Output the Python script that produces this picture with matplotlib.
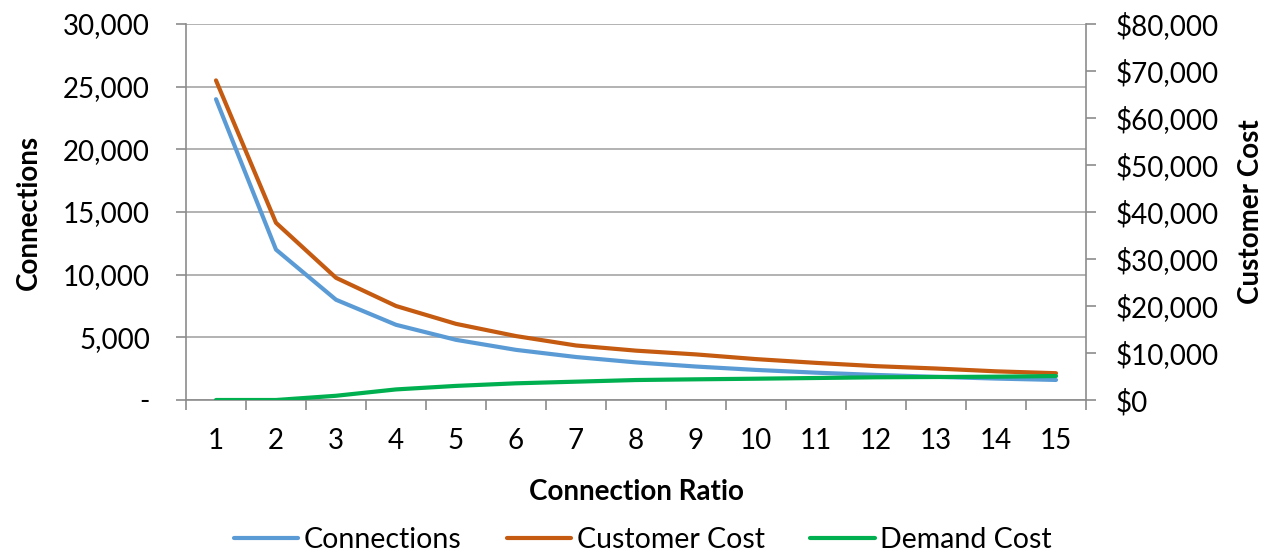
import matplotlib
matplotlib.use("Agg")
import matplotlib.pyplot as plt
from matplotlib.ticker import FuncFormatter, MultipleLocator, FixedLocator

ratio = list(range(1, 16))
connections = [24000, 12000, 8000, 6000, 4800, 4000, 3430, 3000, 2670, 2400, 2180, 2000, 1850, 1710, 1600]
customer_cost = [68000, 37700, 26000, 20000, 16200, 13600, 11600, 10500, 9700, 8700, 7900, 7200, 6700, 6100, 5700]
demand_cost = [0, 0, 900, 2250, 3000, 3550, 3900, 4250, 4400, 4530, 4680, 4830, 4890, 4960, 5100]

plt.rcParams['font.family'] = ['Lato', 'DejaVu Sans']
FS = 20

fig = plt.figure(figsize=(12.66, 5.54), dpi=100)
ax = fig.add_axes([186/1266, 1-400/554, 900/1266, 376/554])
ax2 = ax.twinx()

c_blue = '#5B9BD5'
c_orange = '#C55A11'
c_green = '#00B050'
grid_c = '#A6A6A6'
spine_c = '#8C8C8C'

l1, = ax.plot(ratio, connections, color=c_blue, lw=3, solid_capstyle='round', zorder=3)
l2, = ax2.plot(ratio, customer_cost, color=c_orange, lw=3, solid_capstyle='round', zorder=3)
l3, = ax2.plot(ratio, demand_cost, color=c_green, lw=3, solid_capstyle='round', zorder=3)

ax.set_xlim(0.5, 15.5)
ax.set_ylim(0, 30000)
ax2.set_ylim(0, 80000)
ax.yaxis.set_major_locator(MultipleLocator(5000))
ax2.yaxis.set_major_locator(MultipleLocator(10000))
ax.yaxis.set_major_formatter(FuncFormatter(lambda v, p: '-' if v == 0 else f'{int(v):,}'))
ax2.yaxis.set_major_formatter(FuncFormatter(lambda v, p: f'${int(v):,}'))

ax.set_xticks(ratio)
ax.set_xticklabels([str(r) for r in ratio])
ax.xaxis.set_minor_locator(FixedLocator([r + 0.5 for r in range(0, 16)]))
ax.tick_params(axis='x', which='major', length=0, labelsize=FS, pad=20)
ax.tick_params(axis='x', which='minor', length=7, color=spine_c, direction='out', width=1.2)
ax.tick_params(axis='y', length=7, color=spine_c, labelsize=FS, pad=19, width=1.2)
ax2.tick_params(axis='y', length=7, color=spine_c, labelsize=FS, pad=14, width=1.2)

ax.grid(axis='y', color=grid_c, lw=1.2)
ax.set_axisbelow(True)
for a in (ax, ax2):
    for s in a.spines.values():
        s.set_visible(False)
    a.set_facecolor('none')
ax.spines['left'].set_visible(True)
ax.spines['left'].set_color(spine_c)
ax.spines['left'].set_linewidth(1.2)
ax.spines['bottom'].set_visible(True)
ax.spines['bottom'].set_color(spine_c)
ax.spines['bottom'].set_linewidth(1.2)
ax2.spines['right'].set_visible(True)
ax2.spines['right'].set_color(spine_c)
ax2.spines['right'].set_linewidth(1.2)

ax.set_xlabel('Connection Ratio', fontsize=FS, fontweight='bold', labelpad=18)
ax.set_ylabel('Connections', fontsize=FS, fontweight='bold')
ax2.set_ylabel('Customer Cost', fontsize=FS, fontweight='bold', rotation=90)
ax.yaxis.set_label_coords(-(186-42)/900, 0.5)
ax2.yaxis.set_label_coords(1+(1238-1086)/900, 0.5)

fig.legend([l1, l2, l3], ['Connections', 'Customer Cost', 'Demand Cost'],
           loc='center', bbox_to_anchor=(643/1266, 1-540/554), ncol=3,
           frameon=False, fontsize=20.5, handlelength=2.25, handletextpad=0.2,
           columnspacing=1.6)

fig.savefig('out.png', dpi=100)
